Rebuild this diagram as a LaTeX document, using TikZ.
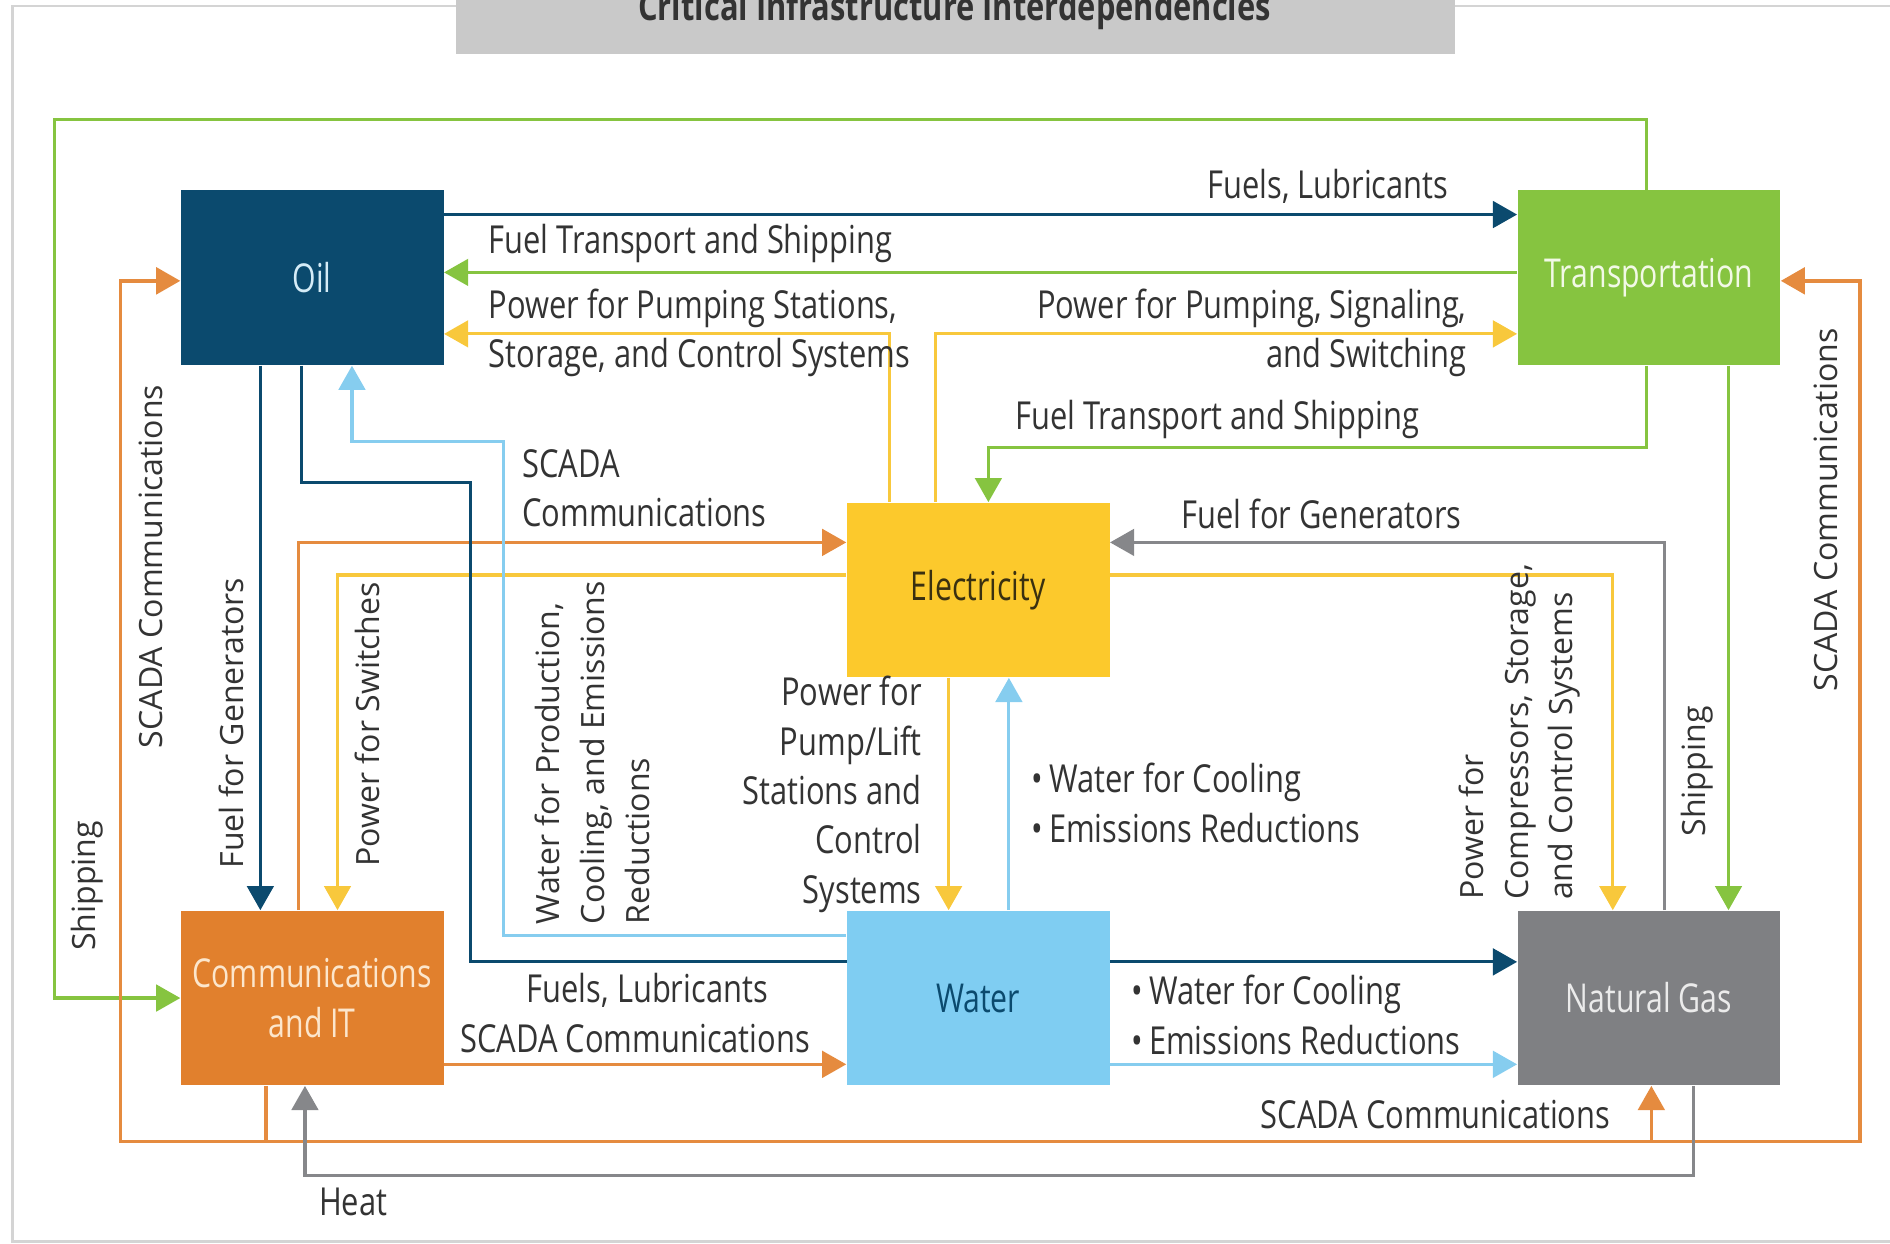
\documentclass[tikz,border=0pt]{standalone}
\usepackage{fontspec}
\usetikzlibrary{arrows.meta,calc}
\newfontfamily\labfont{Open Sans}[FakeStretch=0.8]
\newfontfamily\boxfont{Open Sans}[FakeStretch=0.76]
\newfontfamily\rotfont{Open Sans}
\definecolor{navyc}{HTML}{0B4A6E}
\definecolor{greenc}{HTML}{86C440}
\definecolor{yellowc}{HTML}{FCC92C}
\definecolor{yline}{HTML}{F8C83C}
\definecolor{orangec}{HTML}{E1802D}
\definecolor{oline}{HTML}{E58B3F}
\definecolor{bluec}{HTML}{7FCDF2}
\definecolor{bline}{HTML}{86CDEF}
\definecolor{grayc}{HTML}{7F8083}
\definecolor{gline}{HTML}{86878A}
\definecolor{txt}{HTML}{333333}
\definecolor{framec}{HTML}{D4D4D4}
\definecolor{titlec}{HTML}{C9C9C9}
\definecolor{toil}{HTML}{D5ECF7}
\definecolor{ttrans}{HTML}{F2F9E6}
\definecolor{telec}{HTML}{3A3010}
\definecolor{tcomm}{HTML}{FCE6CC}
\definecolor{tng}{HTML}{EBEBEB}
\tikzset{
  conn/.style={line width=1.3pt, -{Triangle[length=10pt,width=11pt]}},
  box/.style={minimum width=109pt, minimum height=72.5pt, inner sep=0pt, align=center,
    font=\boxfont\fontsize{16.5}{21}\selectfont},
  lab/.style={font=\labfont\fontsize{16}{20.5}\selectfont, text=txt, inner sep=0pt},
  rlab/.style={font=\rotfont\fontsize{13.3}{18.5}\selectfont, text=txt, inner sep=0pt, rotate=90}
}
\begin{document}
\begin{tikzpicture}[x=0.5pt,y=-0.5pt]
\useasboundingbox (0,0) rectangle (1568,1032);
\clip (0,0) rectangle (1568,1032);
% frame and title
\draw[framec, line width=1.2pt] (378,5) -- (10,5) -- (10,1030) -- (1568,1030);
\draw[framec, line width=1.2pt] (1207,5) -- (1568,5);
\fill[titlec] (378,-5) rectangle (1207,45);
\node[font=\labfont\bfseries\fontsize{16}{20}\selectfont, text=txt, anchor=base, inner sep=0pt] (title) at (792,17) {Critical Infrastructure Interdependencies};
% box positions
\path
  (259,230.5) node[box] (oil) {}
  (1368,230.5) node[box] (trans) {}
  (811.5,489.5) node[box] (elec) {}
  (259,828) node[box] (comm) {}
  (811.5,828) node[box] (water) {}
  (1368,828) node[box] (ng) {};
% connectors
\draw[conn, navyc] (oil.east |- 0,178) -- (trans.west |- 0,178);
\draw[conn, greenc] (trans.west |- 0,226) -- (oil.east |- 0,226);
\draw[conn, yline] (elec.north -| 738,0) |- (oil.east |- 0,277);
\draw[conn, yline] (elec.north -| 776,0) |- (trans.west |- 0,277);
\draw[conn, greenc] (trans.south -| 1366,0) -- (1366,371) -| (elec.north -| 820,0);
\draw[conn, greenc] (trans.north -| 1366,0) -- (1366,99) -- (45,99) -- (45,828) -- (comm.west);
\draw[conn, greenc] (trans.south -| 1434,0) -- (ng.north -| 1434,0);
\draw[conn, gline] (ng.north -| 1381,0) |- (elec.east |- 0,450);
\draw[conn, yline] (elec.east |- 0,477) -| (ng.north -| 1338,0);
\draw[conn, yline] (elec.west |- 0,477) -| (comm.north -| 280,0);
\draw[conn, oline] (comm.north -| 248,0) |- (elec.west |- 0,450);
\draw[conn, navyc] (oil.south -| 216,0) -- (comm.north -| 216,0);
\draw[conn, navyc] (oil.south -| 250,0) -- (250,400) -- (390,400) -- (390,798) -- (ng.west |- 0,798);
\draw[conn, bline] (water.west |- 0,776) -- (418,776) -- (418,366) -- (292,366) -- (oil.south -| 292,0);
\draw[conn, yline] (elec.south -| 787,0) -- (water.north -| 787,0);
\draw[conn, bline] (water.north -| 837,0) -- (elec.south -| 837,0);
\draw[conn, bline] (water.east |- 0,883) -- (ng.west |- 0,883);
\draw[conn, oline] (comm.east |- 0,883) -- (water.west |- 0,883);
\draw[conn, oline, line width=1.6pt] (comm.south -| 221,0) -- (221,947) -| (100,233) -- (oil.west |- 0,233);
\draw[conn, oline, line width=1.6pt] (221,947) -| (1543,233) -- (trans.east |- 0,233);
\draw[conn, oline] (1370,947) -- (ng.south -| 1370,0);
\draw[conn, gline] (ng.south -| 1405,0) -- (1405,975) -| (comm.south -| 253,0);
% boxes on top
\node[box, fill=navyc, text=toil] at (oil) {Oil};
\node[box, fill=greenc, text=ttrans] at (trans) {Transportation};
\node[box, fill=yellowc, text=telec] at (elec) {Electricity};
\node[box, fill=orangec, text=tcomm] at (comm) {Communications\\and IT};
\node[box, fill=bluec, text=navyc] at (water) {Water};
\node[box, fill=grayc, text=tng] at (ng) {Natural Gas};
% horizontal labels
\node[lab, anchor=east] (l1) at (1202,155) {Fuels, Lubricants};
\node[lab, anchor=west] (l2) at (405,202) {Fuel Transport and Shipping};
\node[lab, anchor=west, align=left] (l3) at (405,276) {Power for Pumping Stations,\\Storage, and Control Systems};
\node[lab, anchor=east, align=right] (l4) at (1217,276) {Power for Pumping, Signaling,\\and Switching};
\node[lab, anchor=west] (l5) at (842,348) {Fuel Transport and Shipping};
\node[lab, anchor=west] (l6) at (980,426) {Fuel for Generators};
\node[lab, anchor=west, align=left] (l7) at (433,405) {SCADA\\Communications};
\node[lab, anchor=east, align=right] (l8) at (765,659) {Power for\\Pump/Lift\\Stations and\\Control\\Systems};
\node[lab, anchor=west, align=left] (l9) at (855,666) {\textbullet\,Water for Cooling\\\textbullet\,Emissions Reductions};
\node[lab, anchor=west, align=left] (l10) at (938,842) {\textbullet\,Water for Cooling\\\textbullet\,Emissions Reductions};
\node[lab] (l11) at (537,822) {Fuels, Lubricants};
\node[lab] (l12) at (527,862) {SCADA Communications};
\node[lab] (l13) at (1191,925) {SCADA Communications};
\node[lab] (l14) at (293,997) {Heat};
% rotated labels
\node[rlab] (r1) at (72,735) {Shipping};
\node[rlab] (r2) at (125,470) {SCADA Communications};
\node[rlab] (r3) at (192,600) {Fuel for Generators};
\node[rlab] (r4) at (305,601) {Power for Switches};
\node[rlab, anchor=west, align=left] (r5) at (491.5,767) {Water for Production,\\Cooling, and Emissions\\Reductions};
\node[rlab, anchor=west, align=left] (r6) at (1261,747) {Power for\\Compressors, Storage,\\and Control Systems};
\node[rlab] (r7) at (1408,640) {Shipping};
\node[rlab] (r8) at (1515,423) {SCADA Communications};
\end{tikzpicture}
\end{document}
